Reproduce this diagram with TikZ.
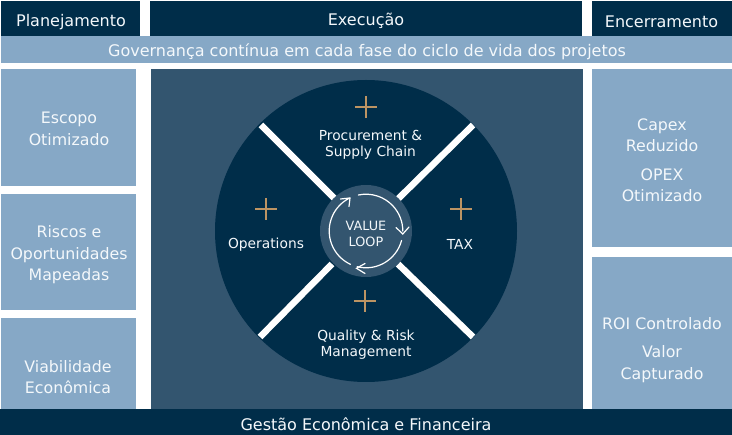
\documentclass[tikz,border=0pt]{standalone}
\usepackage{fontspec}
\setmainfont{DejaVu Sans}
\definecolor{navy}{HTML}{002D49}
\definecolor{panel}{HTML}{33556F}
\definecolor{light}{HTML}{86A8C6}
\definecolor{gold}{HTML}{BD9463}
\definecolor{ink}{HTML}{F4F8FB}
\newcommand{\fs}[2]{\fontsize{#1}{#2}\selectfont}
\tikzset{
  x=1pt,y=-1pt,
  box/.style={anchor=north west,inner sep=0pt,outer sep=0pt,draw=none},
  navybox/.style={box,fill=navy},
  lightbox/.style={box,fill=light},
  txt/.style={text=ink,inner sep=0pt,outer sep=0pt,align=center,anchor=center},
  head/.style={txt,font=\fs{16}{21}},
  side/.style={txt,font=\fs{15.8}{21.5}},
  wheel/.style={txt,font=\fs{13.8}{16}},
  spoke/.style={white,line width=6.5pt},
  plusmark/.style={gold,line width=2.4pt},
  loop/.style={white,line width=1.2pt,line cap=round,line join=miter},
}
\begin{document}
\begin{tikzpicture}
\useasboundingbox (0,0) rectangle (732,435);
\fill[white] (0,0) rectangle (732,435);
% headers
\node[navybox,minimum width=139pt,minimum height=36pt] (hplan) at (1,1) {};
\node[navybox,minimum width=432pt,minimum height=36pt] (hexec) at (150,1) {};
\node[navybox,minimum width=140pt,minimum height=36pt] (henc) at (592,1) {};
\node[lightbox,minimum width=731pt,minimum height=27pt] (gov) at (1,36) {};
% left
\node[lightbox,minimum width=135pt,minimum height=117pt] (l1) at (1,69) {};
\node[lightbox,minimum width=135pt,minimum height=116pt] (l2) at (1,194) {};
\node[lightbox,minimum width=135pt,minimum height=92pt] (l3) at (1,318) {};
% centre
\node[box,fill=panel,minimum width=432pt,minimum height=341pt] (centre) at (151,69) {};
% right
\node[lightbox,minimum width=140pt,minimum height=178pt] (r1) at (592,69) {};
\node[lightbox,minimum width=140pt,minimum height=153pt] (r2) at (592,257) {};
% footer
\node[navybox,minimum width=732pt,minimum height=26pt] (foot) at (0,409) {};
% wheel
\coordinate (c) at (366,231);
\fill[navy] (c) circle[radius=151];
\coordinate (nwo) at (261,125); \coordinate (nwi) at (335,199);
\coordinate (neo) at (473,125); \coordinate (nei) at (398,199);
\coordinate (swo) at (260,337); \coordinate (swi) at (332,264);
\coordinate (seo) at (473,337); \coordinate (sei) at (398,264);
\draw[spoke] (nwo) -- (nwi);
\draw[spoke] (neo) -- (nei);
\draw[spoke] (swo) -- (swi);
\draw[spoke] (seo) -- (sei);
\fill[panel] (c) circle[radius=46];
% plus signs
\foreach \n/\px/\py in {pa/366/107,pb/266/209,pc/461/209,pd/365/301}{
  \coordinate (\n) at (\px,\py);
  \draw[plusmark] (\n) ++(-11,0) -- ++(22,0);
  \draw[plusmark] (\n) ++(0,-11) -- ++(0,22);
}
% loop arrows
\draw[loop] (c) ++(-102:36.8) arc[start angle=-102,end angle=0,radius=36.8];
\draw[loop] (396,227.5) -- (402.8,234) -- (409,227);
\draw[loop] (c) ++(15:36.8) arc[start angle=15,end angle=104,radius=36.8];
\draw[loop] (365,263.5) -- (356.5,268.3) -- (365,273.5);
\draw[loop] (c) ++(115:36.8) arc[start angle=115,end angle=243,radius=36.8];
\draw[loop] (340.5,199) -- (350,198) -- (349,206.5);
% texts
\node[head] (tplan) at (71,22) {Planejamento};
\node[head] (texec) at (366,21) {Execução};
\node[head] (tenc) at (661.5,22) {Encerramento};
\node[head] (tgov) at (367,51.5) {Governança contínua em cada fase do ciclo de vida dos projetos};
\node[head] (tfoot) at (366,424) {Gestão Econômica e Financeira};
\node[side] (tl1) at (69,129) {Escopo\\Otimizado};
\node[side] (tl2) at (69,255) {Riscos e\\Oportunidades\\Mapeadas};
\node[side] (tl3) at (68,377) {Viabilidade\\Econômica};
\node[side] (tr1a) at (662,135.5) {Capex\\Reduzido};
\node[side] (tr1b) at (662,185.5) {OPEX\\Otimizado};
\node[side] (tr2a) at (662,323.5) {ROI Controlado};
\node[side] (tr2b) at (662,364) {Valor\\Capturado};
\node[wheel] (tproc) at (370.5,145) {Procurement \&\\Supply Chain};
\node[wheel] (tops) at (266,244.5) {Operations};
\node[wheel] (ttax) at (460,244.5) {TAX};
\node[wheel] (tqual) at (366,344.5) {Quality \& Risk\\Management};
\node[txt,font=\fs{12.8}{16}] (tloop) at (366,233.5) {VALUE\\LOOP};
\end{tikzpicture}
\end{document}
